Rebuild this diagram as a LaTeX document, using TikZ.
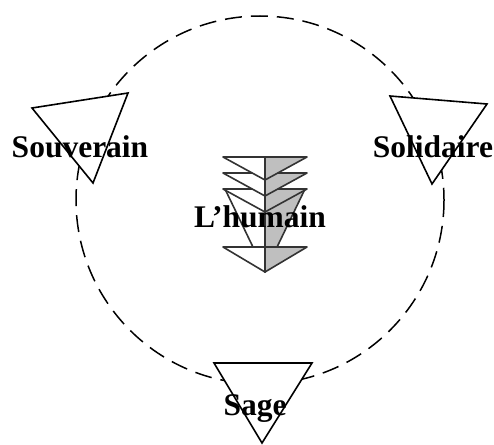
\documentclass[tikz,border=0pt]{standalone}
\usepackage{fontspec}
\setmainfont{Liberation Serif}
\usepackage{xcolor}
\usepackage{tikz}

\tikzset{
  word/.style={font=\fontsize{31.5}{36}\selectfont\bfseries, inner sep=0pt, anchor=base},
  tri/.style={draw=black, fill=white, line width=1.6pt, line join=miter},
  half/.style={draw=black!80, line width=1.6pt, line join=round},
}
% one down-pointing triangle of the stack: top y, height, half width
\newcommand{\stackpiece}[3]{%
  \filldraw[half, fill=white] (265-#3,#1) -- (265,#1) -- (265,#1+#2) -- cycle;
  \filldraw[half, fill=black!25] (265,#1) -- (265+#3,#1) -- (265,#1+#2) -- cycle;}

\begin{document}
\begin{tikzpicture}[x=1pt,y=-1pt]
\useasboundingbox (0,0) rectangle (494,444);

\draw [dash pattern=on 17pt off 9pt, line width=1.5pt] (260,200) circle [radius=184];

% the three corners
\draw [tri] (32,108) -- (128,93) -- (93,183) -- cycle;
\draw [tri] (390,96) -- (487,104) -- (432,184) -- cycle;
\draw [tri] (214,363) -- (312,363) -- (262,443) -- cycle;

% the stack in the middle
\stackpiece{189}{83}{40}
\stackpiece{247}{25}{42}
\stackpiece{189}{23}{42}
\stackpiece{173}{23}{42}
\stackpiece{157}{23}{42}

\node [word] (souverain) at (80,157) {Souverain};
\node [word] (solidaire) at (433,157) {Solidaire};
\node [word] (sage) at (255,415) {Sage};
\node [word] (humain) at (260,227) {L'humain};

\end{tikzpicture}
\end{document}
